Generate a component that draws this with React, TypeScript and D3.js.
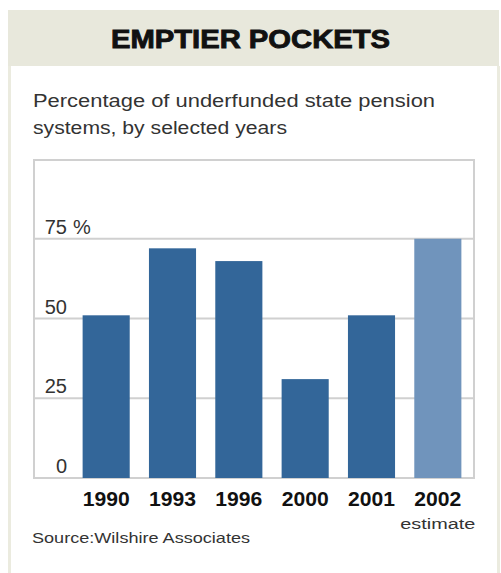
import React from "react";
import * as d3 from "d3";

const years = ["1990", "1993", "1996", "2000", "2001", "2002"];
const values = [51, 72, 68, 31, 51, 75];
const estimate = [false, false, false, false, false, true];
const yTicks = [0, 25, 50, 75];

const W = 501;
const H = 573;

export default function App() {
  const x = d3.scaleBand<string>().domain(years).range([73, 471]).paddingInner(0.29).paddingOuter(0.145);
  const y = d3.scaleLinear().domain([0, 100]).range([478, 159]);
  const font = "'Liberation Sans', Arial, sans-serif";
  return (
    <svg width={W} height={H} style={{ position: "absolute", left: 0, top: 0, background: "#fff" }} fontFamily={font}>
      {/* header band */}
      <rect x={8} y={10} width={491} height={56} fill="#e8e8dc" />
      {/* side borders */}
      <rect x={8} y={66} width={3} height={H - 66} fill="#ebebdf" />
      <rect x={497} y={66} width={3} height={H - 66} fill="#ebebdf" />
      <text x={111} y={48} fontSize={26} fontWeight={900} fill="#111" stroke="#111" strokeWidth={0.9}
        textLength={279} lengthAdjust="spacingAndGlyphs">
        EMPTIER POCKETS
      </text>
      <text x={33} y={107} fontSize={17.5} fill="#333" textLength={402} lengthAdjust="spacingAndGlyphs">Percentage of underfunded state pension</text>
      <text x={33} y={134} fontSize={17.5} fill="#333" textLength={254} lengthAdjust="spacingAndGlyphs">systems, by selected years</text>

      {/* frame */}
      <rect x={34} y={160} width={440} height={318} fill="none" stroke="#d0d0d0" strokeWidth={2} />
      {yTicks.map((t) => (
        <g key={t}>
          <line x1={34} x2={474} y1={y(t)} y2={y(t)} stroke="#d0d0d0" strokeWidth={2} />
          <text x={67} y={y(t) - 5} textAnchor="end" fontSize={20} fill="#333">{t}</text>
          {t === 75 && <text x={73} y={y(t) - 5} fontSize={20} fill="#333">%</text>}
        </g>
      ))}
      {years.map((yr, i) => (
        <g key={yr}>
          <rect
            x={x(yr)!}
            y={y(values[i])}
            width={x.bandwidth()}
            height={y(0) - y(values[i])}
            fill={estimate[i] ? "#7094bc" : "#336699"}
          />
          <text x={x(yr)! + x.bandwidth() / 2} y={506} textAnchor="middle" fontSize={20} fontWeight="bold" fill="#111"
            textLength={47} lengthAdjust="spacingAndGlyphs">{yr}</text>
          {estimate[i] && (
            <text x={x(yr)! + x.bandwidth() / 2} y={529} textAnchor="middle" fontSize={15.5} fill="#333"
              textLength={75} lengthAdjust="spacingAndGlyphs">estimate</text>
          )}
        </g>
      ))}
      <text x={32} y={543} fontSize={15} fill="#333" textLength={218} lengthAdjust="spacingAndGlyphs">Source:Wilshire Associates</text>
    </svg>
  );
}
